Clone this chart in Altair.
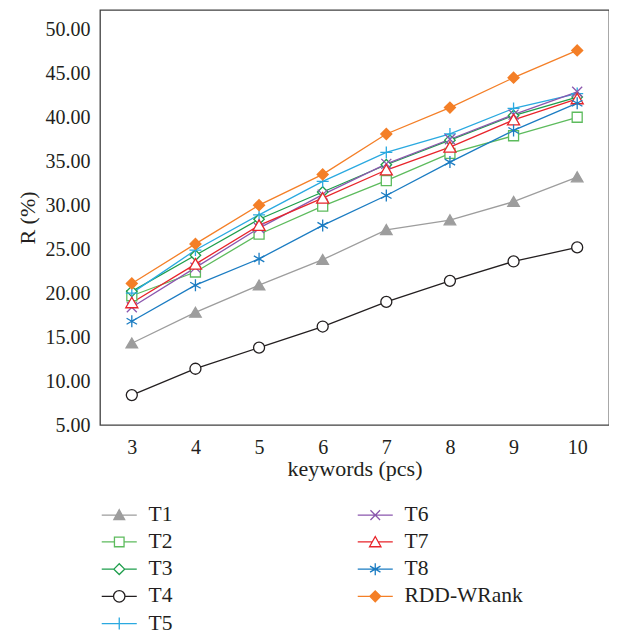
import altair as alt
import pandas as pd

keywords = [3, 4, 5, 6, 7, 8, 9, 10]
series_names = ["T1", "T2", "T3", "T4", "T5", "T6", "T7", "T8", "RDD-WRank"]

t1 = [14.3, 17.8, 20.9, 23.8, 27.2, 28.3, 30.4, 33.2]
t2 = [19.7, 22.4, 26.7, 29.9, 32.8, 35.9, 37.9, 40.0]
t3 = [20.2, 24.3, 28.4, 31.5, 34.6, 37.4, 40.2, 42.3]
t4 = [8.4, 11.4, 13.8, 16.2, 19.0, 21.4, 23.6, 25.2]
t5 = [20.0, 24.9, 28.9, 32.7, 36.0, 38.1, 41.0, 42.7]
t6 = [18.4, 22.9, 27.4, 31.2, 34.7, 37.5, 40.3, 42.9]
t7 = [18.9, 23.3, 27.7, 30.8, 34.0, 36.6, 39.7, 42.1]
t8 = [16.8, 20.9, 23.9, 27.7, 31.1, 34.9, 38.5, 41.6]
rdd = [21.1, 25.6, 30.0, 33.5, 38.1, 41.1, 44.5, 47.6]

y_ticks = [5, 10, 15, 20, 25, 30, 35, 40, 45, 50]

values = {"T1": t1, "T2": t2, "T3": t3, "T4": t4, "T5": t5,
          "T6": t6, "T7": t7, "T8": t8, "RDD-WRank": rdd}

colors = {"T1": "#9d9d9d", "T2": "#5dbb5d", "T3": "#1e9e4c", "T4": "#231f20",
          "T5": "#2aa9e0", "T6": "#8b57ae", "T7": "#e8252b", "T8": "#1b7cc2",
          "RDD-WRank": "#f47f27"}
fills = {"T1": "#9d9d9d", "T2": "#ffffff", "T3": "#ffffff", "T4": "#ffffff",
         "T5": "#ffffff", "T6": "#ffffff", "T7": "#ffffff", "T8": "#ffffff",
         "RDD-WRank": "#f47f27"}

circle = "M1,0A1,1 0 1,1 -1,0A1,1 0 1,1 1,0Z"
marker_paths = {
    "T1": "M0,-1L1.1,0.9L-1.1,0.9Z",
    "T2": "M-1,-1H1V1H-1Z",
    "T3": "M0,-1L1,0L0,1L-1,0Z",
    "T4": circle,
    "T5": "M-1,0H1M0,-1V1",
    "T6": "M-1,-1L1,1M-1,1L1,-1",
    "T7": "M0,-1L1.1,0.9L-1.1,0.9Z",
    "T8": "M0,-1V1M-0.87,-0.5L0.87,0.5M-0.87,0.5L0.87,-0.5",
    "RDD-WRank": "M0,-1L1,0L0,1L-1,0Z",
}
marker_sizes = {"T1": 110, "T2": 100, "T3": 110, "T4": 121, "T5": 144,
                "T6": 100, "T7": 121, "T8": 144, "RDD-WRank": 121}

L = "2.92"
legend_paths = {
    "T1": f"M-{L},0H{L}M0,-0.9L0.9,0.75L-0.9,0.75Z",
    "T2": f"M-{L},0H-0.8M0.8,0H{L}M-0.8,-0.8H0.8V0.8H-0.8Z",
    "T3": f"M-{L},0H-0.9M0.9,0H{L}M0,-0.9L0.9,0L0,0.9L-0.9,0Z",
    "T4": f"M-{L},0H-0.95M0.95,0H{L}M0.95,0A0.95,0.95 0 1,1 -0.95,0A0.95,0.95 0 1,1 0.95,0Z",
    "T5": f"M-{L},0H{L}M0,-1V1",
    "T6": f"M-{L},0H{L}M-0.8,-0.8L0.8,0.8M-0.8,0.8L0.8,-0.8",
    "T7": f"M-{L},0H-0.5M0.5,0H{L}M0,-0.9L0.95,0.8L-0.95,0.8Z",
    "T8": f"M-{L},0H{L}M0,-1V1M-0.87,-0.5L0.87,0.5M-0.87,0.5L0.87,-0.5",
    "RDD-WRank": f"M-{L},0H{L}M0,-0.9L0.9,0L0,0.9L-0.9,0Z",
}

# legend fills columns top to bottom: T1..T5 in column 1, T6..RDD-WRank in column 2
legend_order = series_names

rows = [{"keywords": k, "series": s, "R": v}
        for s in series_names for k, v in zip(keywords, values[s])]
df = pd.DataFrame(rows)

FONT = "Liberation Serif"
TXT = "#231f20"

stroke_scale = alt.Scale(domain=legend_order, range=[colors[s] for s in legend_order])
fill_scale = alt.Scale(domain=legend_order, range=[fills[s] for s in legend_order])
shape_scale = alt.Scale(domain=legend_order, range=[legend_paths[s] for s in legend_order])

x = alt.X("keywords:O", title="keywords (pcs)",
          scale=alt.Scale(type="point", padding=0.5),
          axis=alt.Axis(labelAngle=0, ticks=False, tickSize=0, domain=False, grid=False,
                        labelPadding=12, titlePadding=1))
y = alt.Y("R:Q", title="R (%)",
          scale=alt.Scale(domain=[5, 52.2], nice=False, zero=False),
          axis=alt.Axis(values=y_ticks, format=".2f", ticks=False, tickSize=0, domain=False,
                        grid=False, labelPadding=10, titlePadding=6))

base = alt.Chart(df)

lines = base.mark_line(strokeWidth=1.3).encode(
    x=x, y=y,
    stroke=alt.Stroke("series:N", scale=stroke_scale, legend=None),
)

point_layers = []
for s in series_names:
    point_layers.append(
        base.transform_filter(alt.datum.series == s)
        .mark_point(shape=marker_paths[s], size=marker_sizes[s], strokeWidth=1.3,
                    opacity=1, fillOpacity=1)
        .encode(
            x=x, y=y,
            stroke=alt.Stroke("series:N", scale=stroke_scale, legend=None),
            fill=alt.Fill("series:N", scale=fill_scale, legend=None),
        )
    )

leg = alt.Legend(title=None, orient="none", legendX=8.5, legendY=494, columns=2,
                 symbolSize=144, symbolStrokeWidth=1.3, symbolOpacity=1,
                 labelFont=FONT, labelFontSize=21.5, labelColor=TXT, labelOffset=18.5,
                 rowPadding=4.2, columnPadding=182, padding=0)

legend_layer = base.transform_filter("false").mark_point(opacity=1).encode(
    stroke=alt.Stroke("series:N", scale=stroke_scale, legend=leg),
    fill=alt.Fill("series:N", scale=fill_scale, legend=leg),
    shape=alt.Shape("series:N", scale=shape_scale, legend=leg),
)

chart = alt.layer(lines, *point_layers, legend_layer).resolve_scale(
    stroke="independent", fill="independent", shape="independent"
).properties(
    width=509, height=415,
    autosize=alt.AutoSizeParams(type="none"),
    padding={"left": 92, "top": 2, "right": 0, "bottom": 215},
).configure_view(
    stroke="#404040", strokeWidth=1.3
).configure_axis(
    labelFont=FONT, labelFontSize=20, labelColor=TXT,
    titleFont=FONT, titleFontSize=22, titleFontWeight="normal", titleColor=TXT,
)

chart.save("out.html", embed_options={"renderer": "svg", "actions": False})
